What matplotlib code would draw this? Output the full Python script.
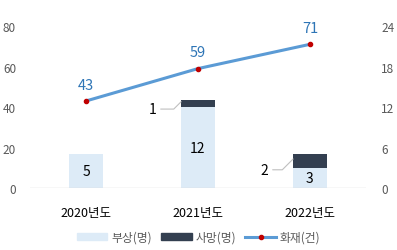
import numpy as np
import matplotlib.pyplot as plt
from matplotlib.patches import Patch
from matplotlib.lines import Line2D

plt.rcParams['font.family'] = ['Noto Sans CJK KR', 'DejaVu Sans']

years = ['2020년도', '2021년도', '2022년도']
injured = [5, 12, 3]
deaths = [0, 1, 2]
fires = [43, 59, 71]

c_inj = '#DDEBF7'
c_dead = '#333F50'
c_line = '#5B9BD5'
c_lab = '#2E75B6'
c_tick = '#595959'

fig = plt.figure(figsize=(3.97, 2.51), dpi=100)
ax = fig.add_axes([0.0756, 0.247, 0.846, 0.645])
ax2 = ax.twinx()

x = np.arange(len(years))
w = 0.3

# 막대 (보조축)
ax2.bar(x, injured, w, color=c_inj, zorder=2)
ax2.bar(x, deaths, w, bottom=injured, color=c_dead, zorder=2)
for i in range(len(x)):
    ax2.text(x[i], injured[i] / 2, str(injured[i]), ha='center', va='center',
             fontsize=10, color='black')
    if deaths[i] > 0:
        ax2.annotate(str(deaths[i]), xy=(x[i] - w / 2, injured[i] + deaths[i] / 2 + 0.3),
                     xytext=(x[i] - w / 2 - 0.22, injured[i] - 0.3),
                     ha='right', va='center', fontsize=10, color='black',
                     arrowprops=dict(arrowstyle='-', color='#BFBFBF', lw=0.8,
                                     shrinkA=1, shrinkB=0,
                                     connectionstyle='angle,angleA=0,angleB=45,rad=0'))

# 꺾은선 (주축)
ax.set_zorder(ax2.get_zorder() + 1)
ax.patch.set_visible(False)
ax.plot(x, fires, color=c_line, lw=2.2, zorder=3, solid_capstyle='butt')
ax.plot(x, fires, 'o', color='#C00000', ms=3, zorder=4)
for i in range(len(x)):
    ax.text(x[i], fires[i] + 4.5, str(fires[i]), ha='center', va='bottom',
            fontsize=10.5, color=c_lab)

ax.set_xlim(-0.5, 2.5)
ax.set_ylim(0, 80)
ax2.set_ylim(0, 24)
ax.set_yticks([0, 20, 40, 60, 80])
ax2.set_yticks([0, 6, 12, 18, 24])
ax.set_xticks(x)
ax.set_xticklabels(years)

for a in (ax, ax2):
    for s in a.spines.values():
        s.set_visible(False)
    a.tick_params(length=0, labelsize=8.5, labelcolor=c_tick)
ax.tick_params(axis='y', pad=10)
ax2.tick_params(axis='y', pad=11)
ax.tick_params(axis='x', pad=13, labelcolor='black', labelsize=9)
ax.axhline(0, color='#D9D9D9', lw=1, zorder=1)

# 범례
handles = [Patch(color=c_inj), Patch(color=c_dead),
           Line2D([], [], color=c_line, lw=2.2, marker='o', mfc='#C00000',
                  mec='#C00000', ms=3)]
fig.legend(handles, ['부상(명)', '사망(명)', '화재(건)'], loc='center',
           bbox_to_anchor=(0.5, 0.05), ncol=3, frameon=False, fontsize=8.5,
           handlelength=2.6, handleheight=0.5, handletextpad=0.3,
           columnspacing=0.8, labelcolor=c_tick)

fig.savefig('out.png', dpi=100)
